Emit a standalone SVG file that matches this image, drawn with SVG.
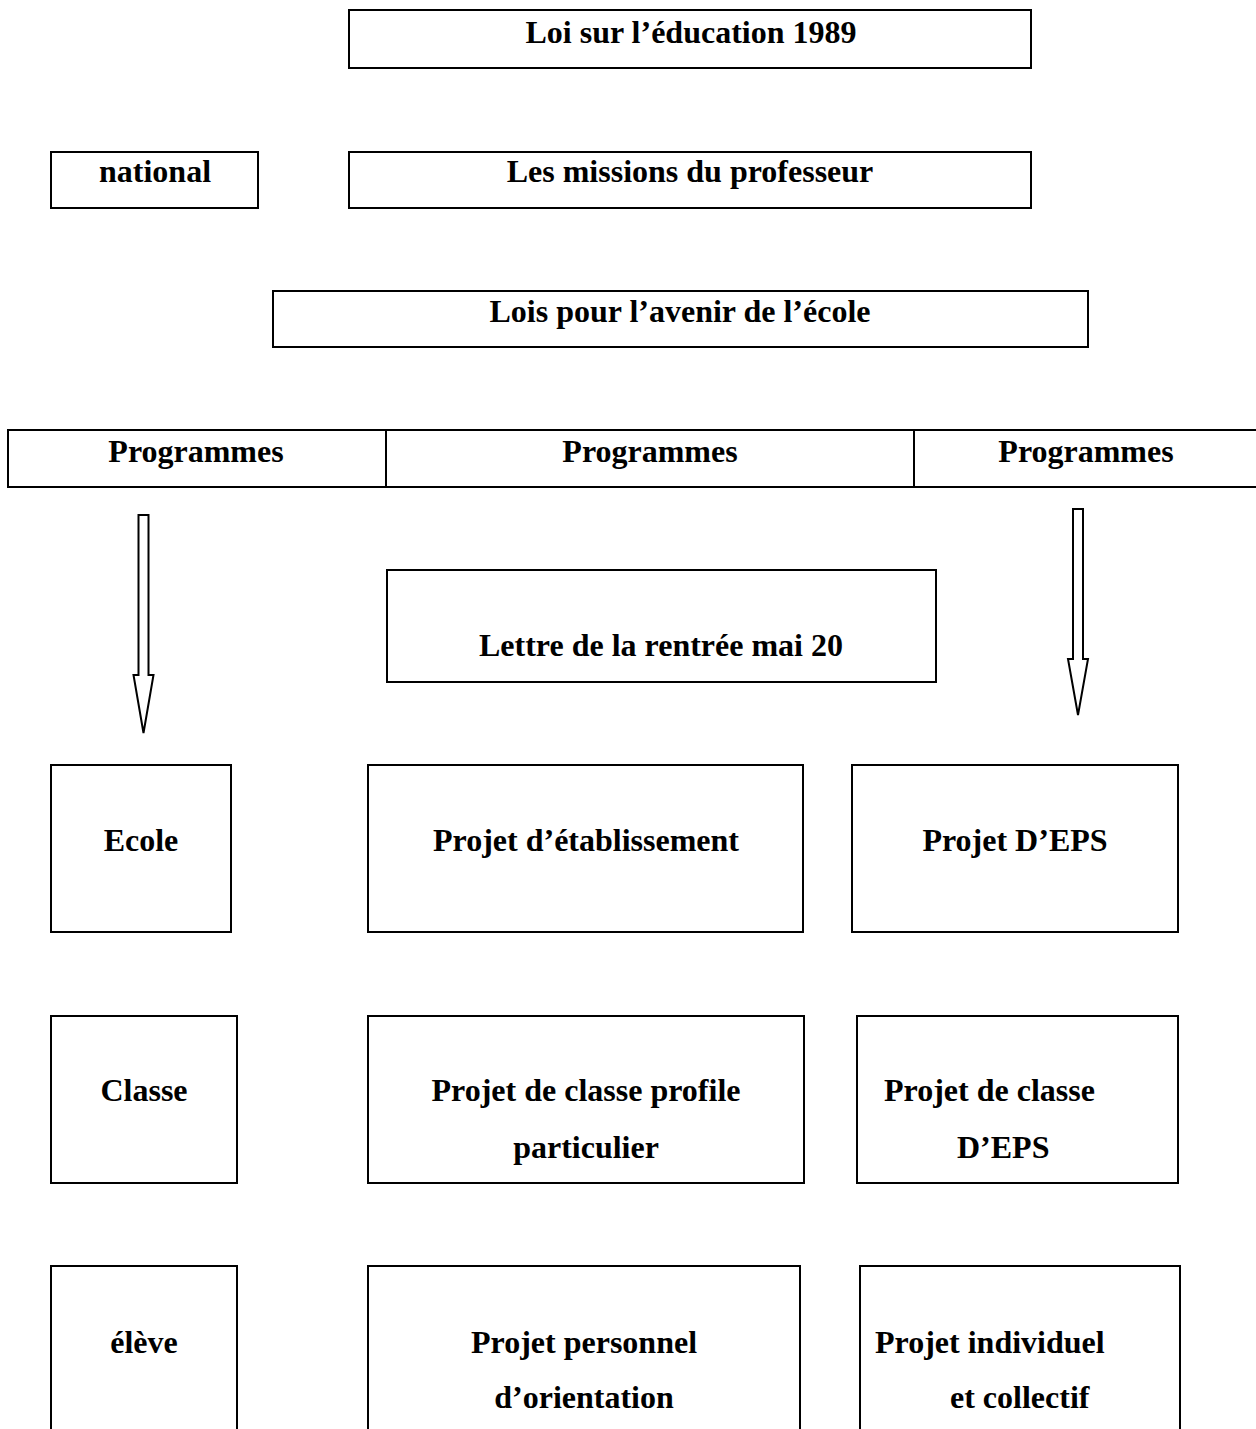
<svg xmlns="http://www.w3.org/2000/svg" width="1256" height="1429" viewBox="0 0 1256 1429">
<style>
.box{fill:#fff;stroke:#000;stroke-width:2}
.arr{fill:#fff;stroke:#000;stroke-width:2;stroke-linejoin:miter}
.t{font-family:"Liberation Serif","Times New Roman",serif;font-weight:bold;font-size:32px;fill:#000}
.c{text-anchor:middle}
</style>
<rect width="1256" height="1429" fill="#fff"/>
<g id="loi1989"><rect class="box" x="349" y="10" width="682" height="58"/><text class="t c" x="691" y="43">Loi sur l’éducation 1989</text></g>
<g id="national"><rect class="box" x="51" y="152" width="207" height="56"/><text class="t c" x="155" y="182">national</text></g>
<g id="missions"><rect class="box" x="349" y="152" width="682" height="56"/><text class="t c" x="690" y="182">Les missions du professeur</text></g>
<g id="lois"><rect class="box" x="273" y="291" width="815" height="56"/><text class="t c" x="680" y="322">Lois pour l’avenir de l’école</text></g>
<g id="programmes">
<rect class="box" x="8" y="430" width="1260" height="57"/>
<line x1="386" y1="430" x2="386" y2="487" stroke="#000" stroke-width="2"/>
<line x1="914" y1="430" x2="914" y2="487" stroke="#000" stroke-width="2"/>
<text class="t c" x="196" y="462">Programmes</text>
<text class="t c" x="650" y="462">Programmes</text>
<text class="t c" x="1086" y="462">Programmes</text>
</g>
<g id="lettre"><rect class="box" x="387" y="570" width="549" height="112"/><text class="t c" x="661" y="656">Lettre de la rentrée mai 20</text></g>
<g id="ecole"><rect class="box" x="51" y="765" width="180" height="167"/><text class="t c" x="141" y="851">Ecole</text></g>
<g id="projet-etab"><rect class="box" x="368" y="765" width="435" height="167"/><text class="t c" x="586" y="851">Projet d’établissement</text></g>
<g id="projet-eps"><rect class="box" x="852" y="765" width="326" height="167"/><text class="t c" x="1015" y="851">Projet D’EPS</text></g>
<g id="classe"><rect class="box" x="51" y="1016" width="186" height="167"/><text class="t c" x="144" y="1101">Classe</text></g>
<g id="projet-classe-profile"><rect class="box" x="368" y="1016" width="436" height="167"/><text class="t c" x="586" y="1101">Projet de classe profile</text><text class="t c" x="586" y="1158">particulier</text></g>
<g id="projet-classe-eps"><rect class="box" x="857" y="1016" width="321" height="167"/><text class="t" x="884" y="1101">Projet de classe</text><text class="t" x="957" y="1158">D’EPS</text></g>
<g id="eleve"><rect class="box" x="51" y="1266" width="186" height="200"/><text class="t c" x="144" y="1353">élève</text></g>
<g id="projet-personnel"><rect class="box" x="368" y="1266" width="432" height="200"/><text class="t c" x="584" y="1353">Projet personnel</text><text class="t c" x="584" y="1408">d’orientation</text></g>
<g id="projet-individuel"><rect class="box" x="860" y="1266" width="320" height="200"/><text class="t" x="875" y="1353">Projet individuel</text><text class="t" x="950" y="1408">et collectif</text></g>
<g id="connectors">
<polygon class="arr" points="138.5,515 148.5,515 148.5,675 153.5,675 143.5,733 133.5,675 138.5,675"/>
<polygon class="arr" points="1073,509 1083,509 1083,659 1088,659 1078,715 1068,659 1073,659"/>
</g>
</svg>
